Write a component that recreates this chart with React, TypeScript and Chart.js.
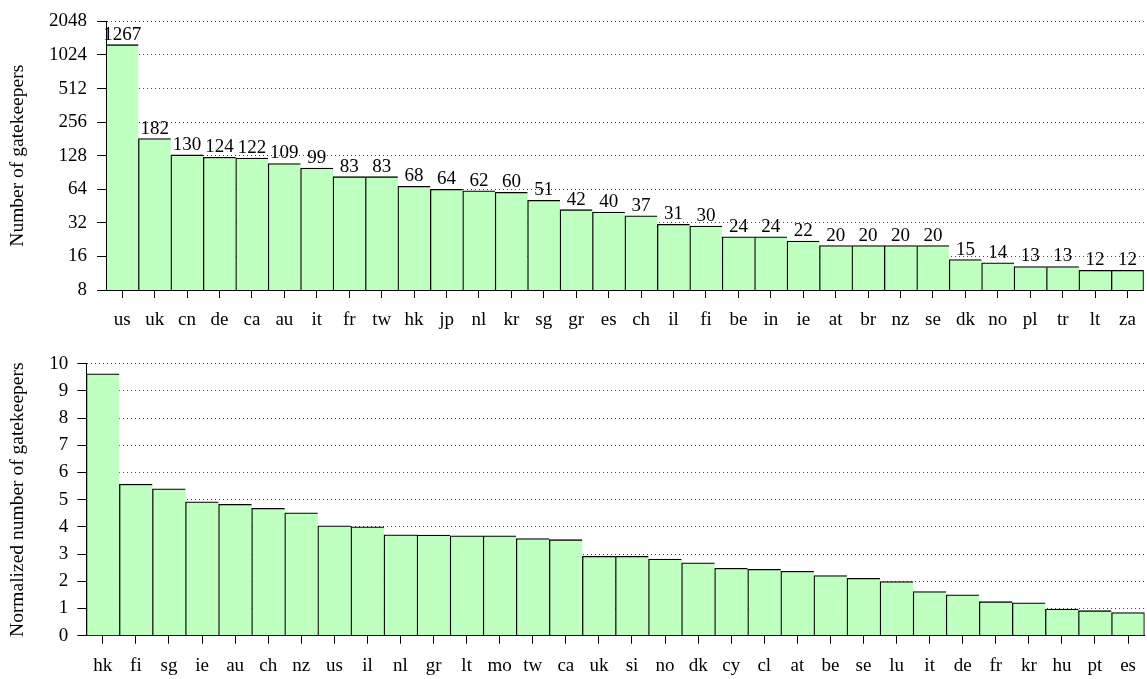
import React, { useEffect, useRef } from "react";
import { Chart, registerables } from "chart.js";

Chart.register(...registerables);

const countryLabels = ["us","uk","cn","de","ca","au","it","fr","tw","hk","jp","nl","kr","sg","gr","es","ch","il","fi","be","in","ie","at","br","nz","se","dk","no","pl","tr","lt","za"];
const gatekeeperCounts = [1267,182,130,124,122,109,99,83,83,68,64,62,60,51,42,40,37,31,30,24,24,22,20,20,20,20,15,14,13,13,12,12];
const logTickValues = [8,16,32,64,128,256,512,1024,2048];

const normLabels = ["hk","fi","sg","ie","au","ch","nz","us","il","nl","gr","lt","mo","tw","ca","uk","si","no","dk","cy","cl","at","be","se","lu","it","de","fr","kr","hu","pt","es"];
const normValues = [9.63,5.57,5.40,4.92,4.83,4.68,4.52,4.04,4.0,3.71,3.70,3.67,3.67,3.57,3.53,2.92,2.92,2.82,2.68,2.48,2.44,2.37,2.21,2.11,1.99,1.62,1.50,1.25,1.21,0.98,0.92,0.85];

const FONT = "'Liberation Serif', 'Times New Roman', serif";
const BAR_FILL = "#bfffbf";

const valueLabelPlugin = {
  id: "valueLabels",
  afterDatasetsDraw(chart: any) {
    const ctx = chart.ctx;
    const meta = chart.getDatasetMeta(0);
    const data = chart.data.datasets[0].data;
    ctx.save();
    ctx.font = `19px ${FONT}`;
    ctx.fillStyle = "#000";
    ctx.textAlign = "center";
    ctx.textBaseline = "alphabetic";
    meta.data.forEach((bar: any, i: number) => {
      ctx.fillText(String(data[i]), bar.x, bar.y - 5);
    });
    ctx.restore();
  },
};

function barBorder(n: number) {
  return (c: any) => ({ top: 1.3, left: 1.3, right: c.dataIndex === n - 1 ? 1.3 : 0, bottom: 0 });
}

function makeXScale(height: number, padding: number) {
  return {
    type: "category",
    offset: true,
    grid: {
      display: true,
      drawOnChartArea: false,
      drawTicks: true,
      tickLength: 8,
      offset: false,
      color: "#000",
      tickColor: "#000",
      tickWidth: 1,
      tickBorderDash: [],
    },
    border: { display: true, color: "#000", width: 1 },
    ticks: { font: { family: FONT, size: 19 }, color: "#000", padding, maxRotation: 0, autoSkip: false },
    afterFit: (s: any) => { s.height = height; },
  };
}

function yGrid() {
  return {
    display: true,
    drawOnChartArea: true,
    drawTicks: true,
    tickLength: 9,
    color: "#444",
    lineWidth: 1,
    tickColor: "#000",
    tickWidth: 1,
    tickBorderDash: [],
    borderDash: [1, 3],
  };
}

function yTitle(text: string) {
  return { display: true, text, font: { family: FONT, size: 19.5 }, color: "#000", padding: { top: 6, bottom: 0 } };
}

export default function App() {
  const ref1 = useRef<HTMLCanvasElement>(null);
  const ref2 = useRef<HTMLCanvasElement>(null);

  useEffect(() => {
    const c1 = new Chart(ref1.current as HTMLCanvasElement, {
      type: "bar",
      data: {
        labels: countryLabels,
        datasets: [{
          data: gatekeeperCounts,
          backgroundColor: BAR_FILL,
          borderColor: "#000",
          borderWidth: barBorder(gatekeeperCounts.length) as any,
          borderSkipped: false,
          barPercentage: 1,
          categoryPercentage: 1,
        }],
      },
      options: {
        animation: false,
        responsive: false,
        devicePixelRatio: 1,
        layout: { padding: { top: 17, right: 1, bottom: 0, left: 0 } },
        plugins: { legend: { display: false }, tooltip: { enabled: false } },
        scales: {
          x: makeXScale(50, 11) as any,
          y: {
            type: "logarithmic",
            min: 8,
            max: 2048,
            afterBuildTicks: (s: any) => { s.ticks = logTickValues.map((v) => ({ value: v })); },
            afterFit: (s: any) => { s.width = 106; },
            grid: yGrid() as any,
            border: { display: true, color: "#000", width: 1, dash: [1, 3] },
            ticks: { font: { family: FONT, size: 19 }, color: "#000", padding: 10, callback: (v: any) => String(v) },
            title: yTitle("Number of gatekeepers"),
          } as any,
        },
      },
      plugins: [valueLabelPlugin],
    });

    const c2 = new Chart(ref2.current as HTMLCanvasElement, {
      type: "bar",
      data: {
        labels: normLabels,
        datasets: [{
          data: normValues,
          backgroundColor: BAR_FILL,
          borderColor: "#000",
          borderWidth: barBorder(normValues.length) as any,
          borderSkipped: false,
          barPercentage: 1,
          categoryPercentage: 1,
        }],
      },
      options: {
        animation: false,
        responsive: false,
        devicePixelRatio: 1,
        layout: { padding: { top: 33.7, right: 1, bottom: 0, left: 0 } },
        plugins: { legend: { display: false }, tooltip: { enabled: false } },
        scales: {
          x: makeXScale(43.3, 11) as any,
          y: {
            type: "linear",
            min: 0,
            max: 10,
            ticks: { stepSize: 1, font: { family: FONT, size: 19 }, color: "#000", padding: 9 },
            afterFit: (s: any) => { s.width = 86.3; },
            grid: yGrid() as any,
            border: { display: true, color: "#000", width: 1, dash: [1, 3] },
            title: yTitle("Normalized number of gatekeepers"),
          } as any,
        },
      },
    });

    return () => {
      c1.destroy();
      c2.destroy();
    };
  }, []);

  return (
    <div style={{ position: "absolute", left: 0, top: 0, width: 1147, height: 679, background: "#fff" }}>
      <canvas ref={ref1} width={1147} height={340} style={{ position: "absolute", left: 0, top: 0, display: "block" }} />
      <canvas ref={ref2} width={1147} height={349} style={{ position: "absolute", left: 0, top: 330, display: "block" }} />
    </div>
  );
}
